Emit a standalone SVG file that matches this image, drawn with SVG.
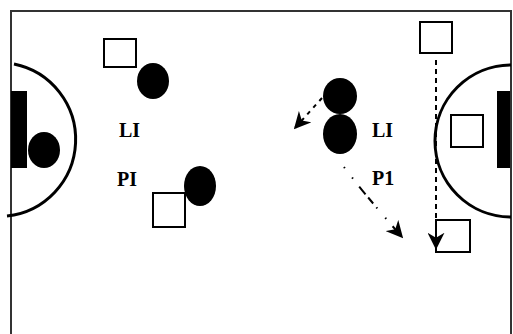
<svg xmlns="http://www.w3.org/2000/svg" width="513" height="334" viewBox="0 0 513 334">
  <style>
    .frame { fill: none; stroke: #333; stroke-width: 2; }
    .arc { fill: none; stroke: #000; stroke-width: 3; }
    .player { fill: #000; }
    .marker { fill: #fff; stroke: #000; stroke-width: 2; }
    .label { font-family: "Liberation Serif", "Times New Roman", serif; font-weight: bold; font-size: 20px; fill: #000; }
    .move { fill: none; stroke: #000; stroke-width: 2; }
  </style>
  <defs>
    <marker id="headL" viewBox="0 0 10 10" refX="9" refY="5" markerWidth="17" markerHeight="17" markerUnits="userSpaceOnUse" orient="auto">
      <path d="M0,0 L10,5 L0,10 L3,5 Z" fill="#000"/>
    </marker>
  </defs>
  <rect width="513" height="334" fill="#fff"/>

  <!-- court outline -->
  <g id="court">
    <path class="frame" d="M11,334 V11 H511 V334"/>
    <path class="arc" d="M14,64 A77,77 0 0 1 7,216"/>
    <rect x="11" y="91" width="16" height="77" fill="#000"/>
    <path class="arc" d="M511,65 A76,76 0 0 0 511,217"/>
    <rect x="497" y="91" width="13" height="77" fill="#000"/>
  </g>

  <!-- left half -->
  <g id="left-post-player"><ellipse class="player" cx="44" cy="150" rx="16" ry="18"/></g>
  <g id="left-marker-top"><rect class="marker" x="104" y="39" width="32" height="28"/></g>
  <g id="left-player-top"><ellipse class="player" cx="153" cy="81" rx="16" ry="18"/></g>
  <g id="left-label-li"><text class="label" x="119" y="137">LI</text></g>
  <g id="left-label-pi"><text class="label" x="117" y="186">PI</text></g>
  <g id="left-player-bottom"><ellipse class="player" cx="200" cy="186" rx="16" ry="20"/></g>
  <g id="left-marker-bottom"><rect class="marker" x="153" y="193" width="32" height="34"/></g>

  <!-- right half -->
  <g id="right-marker-top"><rect class="marker" x="420" y="22" width="32" height="31"/></g>
  <g id="right-marker-key"><rect class="marker" x="451" y="115" width="32" height="32"/></g>
  <g id="right-marker-bottom"><rect class="marker" x="436" y="220" width="34" height="32"/></g>
  <g id="right-player-upper"><ellipse class="player" cx="340" cy="96" rx="17" ry="18"/></g>
  <g id="right-player-lower"><ellipse class="player" cx="340" cy="134" rx="17" ry="20"/></g>
  <g id="right-label-li"><text class="label" x="372" y="137">LI</text></g>
  <g id="right-label-p1"><text class="label" x="372" y="185">P1</text></g>

  <!-- movement paths -->
  <g id="connectors">
    <path class="move" d="M322,98 L295,128" stroke-dasharray="4 5" marker-end="url(#headL)"/>
    <path class="move" d="M344,167 Q365,195 402,237" stroke-dasharray="1.5 12 1.5 10 10 4 8 5" marker-end="url(#headL)"/>
    <path class="move" d="M436,60 V248" stroke-dasharray="5 4" marker-end="url(#headL)"/>
  </g>
</svg>
